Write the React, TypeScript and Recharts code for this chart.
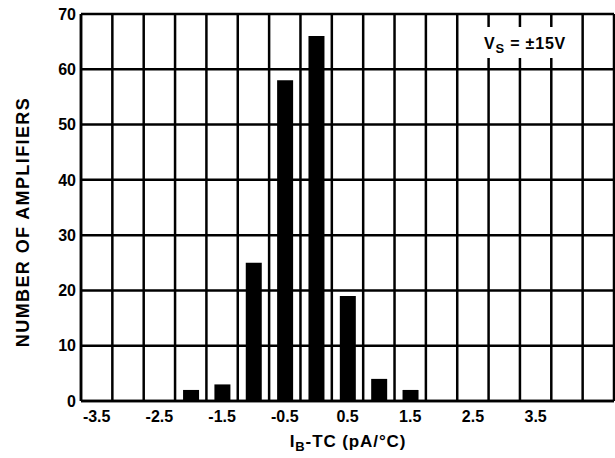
import React from "react";
import { BarChart, Bar, XAxis, YAxis, CartesianGrid, Customized } from "recharts";

// histogram bins of bias current TC (pA/°C), 0.5 wide
const tcBins = [-3.5, -3.0, -2.5, -2.0, -1.5, -1.0, -0.5, 0, 0.5, 1.0, 1.5, 2.0, 2.5, 3.0, 3.5, 4.0, 4.5];
const amplifierCounts = [0, 0, 0, 2, 3, 25, 58, 66, 19, 4, 2, 0, 0, 0, 0, 0, 0];
const xTickLabels = [-3.5, -2.5, -1.5, -0.5, 0.5, 1.5, 2.5, 3.5];
const yTicks = [0, 10, 20, 30, 40, 50, 60, 70];

const data = tcBins.map((tc, i) => ({ tc, count: amplifierCounts[i] }));

const FONT = "'Liberation Sans', Arial, sans-serif";
const tickStyle = { fill: "#000", fontSize: 16, fontWeight: 700, fontFamily: FONT };

// grid lines sit on the bin edges, not on the bin centres (band scale has no padding)
const binEdges = ({ xAxis, offset }: any) => {
  const scale = xAxis && xAxis.scale;
  if (typeof scale === "function" && typeof scale.bandwidth === "function") {
    const starts = tcBins.map((b) => scale(b));
    return [...starts, starts[starts.length - 1] + scale.bandwidth()];
  }
  const step = offset.width / tcBins.length;
  return [...tcBins.map((_, i) => offset.left + i * step), offset.left + offset.width];
};

const SupplyNote = () => (
  <g>
    <rect x={480} y={27} width={91} height={31} fill="#fff" />
    <text x={484} y={49} fontFamily={FONT} fontWeight={700} fontSize={16} letterSpacing={0.8} fill="#000">
      V<tspan fontSize={13} dy={4}>S</tspan>
      <tspan dy={-4}> = ±15V</tspan>
    </text>
  </g>
);

export default function App() {
  return (
    <div style={{ position: "fixed", left: 0, top: 0, width: 615, height: 458, background: "#fff" }}>
      <BarChart width={615} height={458} data={data} margin={{ top: 14, right: 1, left: 0, bottom: 0 }} barSize={16}>
        <CartesianGrid stroke="#000" strokeWidth={2.5} verticalCoordinatesGenerator={binEdges} />
        <XAxis
          dataKey="tc"
          height={57}
          interval={0}
          tickLine={false}
          tickSize={0}
          tickMargin={10}
          axisLine={{ stroke: "#000", strokeWidth: 2.5 }}
          tick={tickStyle}
          tickFormatter={(v: number) => (xTickLabels.includes(v) ? v.toFixed(1) : "")}
          label={{
            content: () => (
              <text
                x={348}
                y={447}
                textAnchor="middle"
                fontFamily={FONT}
                fontWeight={700}
                fontSize={17}
                letterSpacing={0.9}
                fill="#000"
              >
                I<tspan fontSize={13} dy={4}>B</tspan>
                <tspan dy={-4}>-TC (pA/°C)</tspan>
              </text>
            ),
          }}
        />
        <YAxis
          width={81}
          domain={[0, 70]}
          ticks={yTicks}
          interval={0}
          tickLine={false}
          tickSize={0}
          tickMargin={5}
          axisLine={{ stroke: "#000", strokeWidth: 2.5 }}
          tick={tickStyle}
          label={{
            content: () => (
              <text
                x={0}
                y={0}
                transform="translate(29 222) rotate(-90)"
                textAnchor="middle"
                fontFamily={FONT}
                fontWeight={700}
                fontSize={18}
                letterSpacing={1.4}
                fill="#000"
              >
                NUMBER OF AMPLIFIERS
              </text>
            ),
          }}
        />
        <Customized component={SupplyNote} />
        <Bar dataKey="count" fill="#000" isAnimationActive={false} />
      </BarChart>
    </div>
  );
}
